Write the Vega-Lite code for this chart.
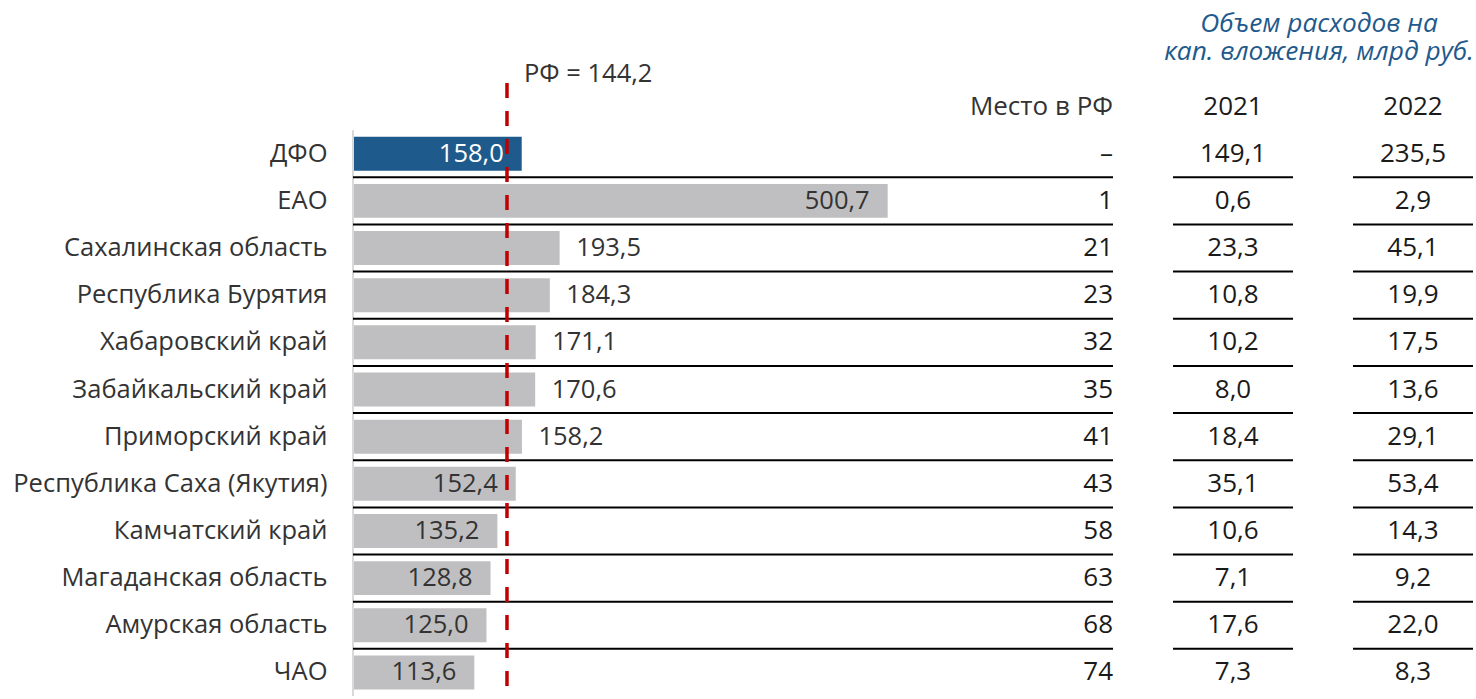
{
  "$schema": "https://vega.github.io/schema/vega-lite/v6.json",
  "background": "white",
  "padding": {"left": 12, "top": 11, "right": 0, "bottom": 0},
  "config": {
    "view": {"stroke": null},
    "font": "Open Sans",
    "text": {"font": "Open Sans", "fontSize": 25.5},
    "axisY": {"domain": false, "ticks": false, "grid": false, "labelPadding": 26, "labelFontSize": 25.5, "labelFont": "Open Sans", "labelColor": "#333333", "labelLimit": 500},
    "locale": {"number": {"decimal": ",", "thousands": " ", "grouping": [3], "currency": ["", " руб."]}}
  },
  "title": {
    "text": ["Объем расходов на", "кап. вложения, млрд руб."],
    "font": "Open Sans", "fontSize": 26.3, "fontStyle": "italic", "fontWeight": "normal",
    "color": "#1f5a8c", "anchor": "end", "align": "center", "lineHeight": 28, "offset": -4, "dx": -155
  },
  "datasets": {
    "rows": [
      {"region": "ДФО", "value": 158.0, "rank": null, "y2021": 149.1, "y2022": 235.5},
      {"region": "ЕАО", "value": 500.7, "rank": 1, "y2021": 0.6, "y2022": 2.9},
      {"region": "Сахалинская область", "value": 193.5, "rank": 21, "y2021": 23.3, "y2022": 45.1},
      {"region": "Республика Бурятия", "value": 184.3, "rank": 23, "y2021": 10.8, "y2022": 19.9},
      {"region": "Хабаровский край", "value": 171.1, "rank": 32, "y2021": 10.2, "y2022": 17.5},
      {"region": "Забайкальский край", "value": 170.6, "rank": 35, "y2021": 8.0, "y2022": 13.6},
      {"region": "Приморский край", "value": 158.2, "rank": 41, "y2021": 18.4, "y2022": 29.1},
      {"region": "Республика Саха (Якутия)", "value": 152.4, "rank": 43, "y2021": 35.1, "y2022": 53.4},
      {"region": "Камчатский край", "value": 135.2, "rank": 58, "y2021": 10.6, "y2022": 14.3},
      {"region": "Магаданская область", "value": 128.8, "rank": 63, "y2021": 7.1, "y2022": 9.2},
      {"region": "Амурская область", "value": 125.0, "rank": 68, "y2021": 17.6, "y2022": 22.0},
      {"region": "ЧАО", "value": 113.6, "rank": 74, "y2021": 7.3, "y2022": 8.3}
    ]
  },
  "data": {"name": "rows"},
  "spacing": 58,
  "hconcat": [
    {
      "width": 760,
      "height": 613,
      "encoding": {
        "y": {"field": "region", "type": "nominal", "sort": null, "title": null,
              "scale": {"domain": ["header","ДФО","ЕАО","Сахалинская область","Республика Бурятия","Хабаровский край","Забайкальский край","Приморский край","Республика Саха (Якутия)","Камчатский край","Магаданская область","Амурская область","ЧАО"], "paddingInner": 0, "paddingOuter": 0},
              "axis": {"labelExpr": "datum.value == 'header' ? '' : datum.value"}}
      },
      "layer": [
        {
          "mark": {"type": "bar", "height": {"band": 0.72}},
          "encoding": {
            "x": {"field": "value", "type": "quantitative", "axis": null, "scale": {"domain": [0, 711.7], "nice": false, "zero": true}},
            "color": {"condition": {"test": "datum.region == 'ДФО'", "value": "#1f5a8c"}, "value": "#bfbfc1"}
          }
        },
        {
          "transform": [{"filter": "datum.region == 'ДФО'"}],
          "mark": {"type": "rule", "color": "#d9d9d9", "strokeWidth": 2},
          "encoding": {
            "x": {"datum": 0, "type": "quantitative"},
            "y": {"field": "region", "type": "nominal", "bandPosition": 0, "title": null,
                  "axis": {"labelExpr": "datum.value == 'header' ? '' : datum.value"}},
            "y2": {"value": "height"}
          }
        },
        {
          "transform": [{"filter": "datum.region != 'ЧАО'"}],
          "mark": {"type": "rule", "color": "#000000", "strokeWidth": 2},
          "encoding": {
            "y": {"field": "region", "type": "nominal", "bandPosition": 1, "title": null,
                  "axis": {"labelExpr": "datum.value == 'header' ? '' : datum.value"}}
          }
        },
        {
          "transform": [{"filter": "datum.value < 155 || datum.value > 400 || datum.region == 'ДФО'"}],
          "mark": {"type": "text", "align": "right", "dx": -18, "fontSize": 25.5},
          "encoding": {
            "x": {"field": "value", "type": "quantitative"},
            "text": {"field": "value", "type": "quantitative", "format": ".1f"},
            "color": {"condition": {"test": "datum.region == 'ДФО'", "value": "#ffffff"}, "value": "#333333"}
          }
        },
        {
          "transform": [{"filter": "!(datum.value < 155 || datum.value > 400 || datum.region == 'ДФО')"}],
          "mark": {"type": "text", "align": "left", "dx": 16.5, "fontSize": 25.5, "color": "#333333"},
          "encoding": {
            "x": {"field": "value", "type": "quantitative"},
            "text": {"field": "value", "type": "quantitative", "format": ".1f"}
          }
        },
        {
          "mark": {"type": "text", "align": "right", "fontSize": 26, "color": "#1a1a1a"},
          "encoding": {
            "x": {"value": "width"},
            "text": {"condition": {"test": "datum.rank == null", "value": "–"}, "field": "rank", "type": "quantitative"}
          }
        },
        {
          "data": {"values": [{"region": "header", "h": "Место в РФ"}]},
          "mark": {"type": "text", "align": "right", "fontSize": 26, "color": "#333333"},
          "encoding": {
            "x": {"value": "width"},
            "text": {"field": "h", "type": "nominal"}
          }
        },
        {
          "data": {"values": [{"rf": 144.2}]},
          "mark": {"type": "rule", "color": "#c00000", "strokeWidth": 3.5, "strokeDash": [15, 13]},
          "encoding": {
            "x": {"field": "rf", "type": "quantitative"},
            "y": null
          }
        },
        {
          "data": {"values": [{"rf": 144.2, "label": "РФ = 144,2", "region": "header"}]},
          "mark": {"type": "text", "align": "left", "dx": 17, "dy": -33, "fontSize": 25.5, "color": "#333333"},
          "encoding": {
            "x": {"field": "rf", "type": "quantitative"},
            "text": {"field": "label", "type": "nominal"}
          }
        }
      ]
    },
    {
      "width": 120,
      "height": 613,
      "encoding": {
        "y": {"field": "region", "type": "nominal", "axis": null,
              "scale": {"domain": ["header","ДФО","ЕАО","Сахалинская область","Республика Бурятия","Хабаровский край","Забайкальский край","Приморский край","Республика Саха (Якутия)","Камчатский край","Магаданская область","Амурская область","ЧАО"], "paddingInner": 0, "paddingOuter": 0}}
      },
      "layer": [
        {
          "transform": [{"filter": "datum.region != 'ЧАО'"}],
          "mark": {"type": "rule", "color": "#000000", "strokeWidth": 2},
          "encoding": {
            "y": {"field": "region", "type": "nominal", "bandPosition": 1, "axis": null}
          }
        },
        {
          "mark": {"type": "text", "align": "center", "fontSize": 26, "color": "#1a1a1a"},
          "encoding": {
            "text": {"field": "y2021", "type": "quantitative", "format": ".1f"}
          }
        },
        {
          "data": {"values": [{"region": "header", "h": "2021"}]},
          "mark": {"type": "text", "align": "center", "fontSize": 26, "color": "#1a1a1a"},
          "encoding": {
            "text": {"field": "h", "type": "nominal"}
          }
        }
      ]
    },
    {
      "width": 120,
      "height": 613,
      "encoding": {
        "y": {"field": "region", "type": "nominal", "axis": null,
              "scale": {"domain": ["header","ДФО","ЕАО","Сахалинская область","Республика Бурятия","Хабаровский край","Забайкальский край","Приморский край","Республика Саха (Якутия)","Камчатский край","Магаданская область","Амурская область","ЧАО"], "paddingInner": 0, "paddingOuter": 0}}
      },
      "layer": [
        {
          "transform": [{"filter": "datum.region != 'ЧАО'"}],
          "mark": {"type": "rule", "color": "#000000", "strokeWidth": 2},
          "encoding": {
            "y": {"field": "region", "type": "nominal", "bandPosition": 1, "axis": null}
          }
        },
        {
          "mark": {"type": "text", "align": "center", "fontSize": 26, "color": "#1a1a1a"},
          "encoding": {
            "text": {"field": "y2022", "type": "quantitative", "format": ".1f"}
          }
        },
        {
          "data": {"values": [{"region": "header", "h": "2022"}]},
          "mark": {"type": "text", "align": "center", "fontSize": 26, "color": "#1a1a1a"},
          "encoding": {
            "text": {"field": "h", "type": "nominal"}
          }
        }
      ]
    }
  ]
}
